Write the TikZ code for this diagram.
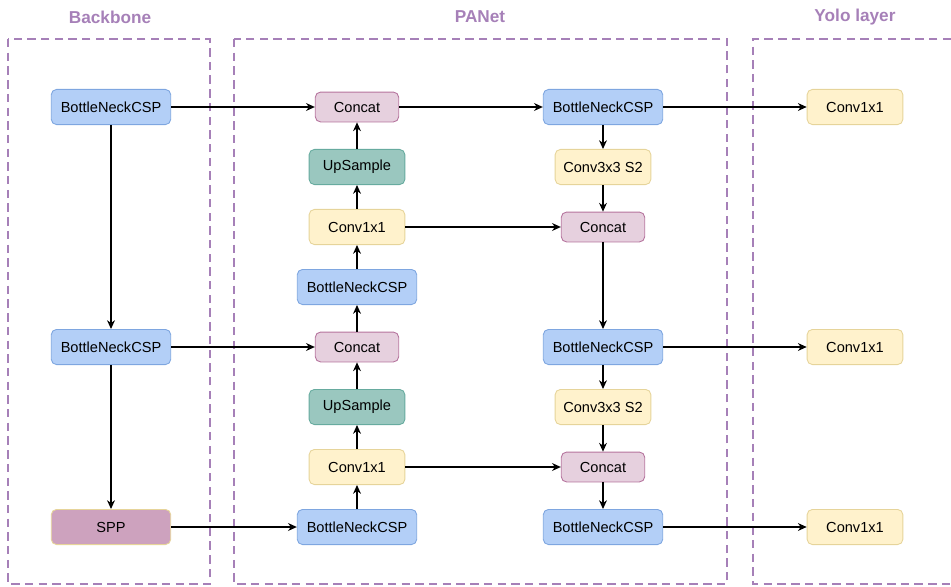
\documentclass[tikz,border=0pt]{standalone}
\usepackage{fontspec}
\setmainfont{Liberation Sans}
\usetikzlibrary{arrows.meta}

\definecolor{grpline}{HTML}{A680B8}
\definecolor{cspfill}{HTML}{B3CFF7}
\definecolor{cspline}{HTML}{7EA6E0}
\definecolor{catfill}{HTML}{E6D0DE}
\definecolor{catline}{HTML}{B5739D}
\definecolor{upfill}{HTML}{9AC7BF}
\definecolor{upline}{HTML}{67AB9F}
\definecolor{convfill}{HTML}{FFF2CC}
\definecolor{convline}{HTML}{E6D49A}
\definecolor{sppfill}{HTML}{CDA2BE}

\tikzset{
  blk/.style={draw, rounded corners=3pt, line width=0.5pt, minimum height=20pt,
    inner sep=0pt, font=\fontsize{8.3}{10}\selectfont},
  csp/.style={blk, fill=cspfill, draw=cspline, minimum width=68pt},
  cat/.style={blk, fill=catfill, draw=catline, minimum width=47.5pt, minimum height=17pt},
  up/.style={blk, fill=upfill, draw=upline, minimum width=54.5pt},
  conv/.style={blk, fill=convfill, draw=convline, minimum width=54.5pt},
  spp/.style={blk, fill=sppfill, draw=convline, minimum width=68pt},
  grp/.style={draw=grpline, line width=1.2pt, dash pattern=on 4.8pt off 3pt},
  grptitle/.style={text=grpline, font=\fontsize{9.8}{11}\selectfont\bfseries},
  link/.style={-{Stealth[length=5pt,width=4.5pt]}, line width=0.6pt}
}

\begin{document}
\begin{tikzpicture}[x=0.02cm, y=-0.02cm]
  \useasboundingbox (0,0) rectangle (951,586);

  % groups
  \draw [grp] (8,39) rectangle (210,584);
  \draw [grp] (234,39) rectangle (727,584);
  \draw [grp] (951,39) -- (753,39) -- (753,584) -- (951,584);
  \node [grptitle] (tbb) at (110,17) {Backbone};
  \node [grptitle] (tpa) at (480,17) {PANet};
  \node [grptitle] (tyo) at (855,17) {Yolo layer};

  % backbone
  \node [csp] (b1) at (111,107) {BottleNeckCSP};
  \node [csp] (b2) at (111,347) {BottleNeckCSP};
  \node [spp] (spp) at (111,527) {SPP};

  % PANet, top-down
  \node [cat] (c1) at (357,107) {Concat};
  \node [up] (u1) at (357,167) {UpSample};
  \node [conv] (k1) at (357,227) {Conv1x1};
  \node [csp] (m1) at (357,287) {BottleNeckCSP};
  \node [cat] (c2) at (357,347) {Concat};
  \node [up] (u2) at (357,407) {UpSample};
  \node [conv] (k2) at (357,467) {Conv1x1};
  \node [csp] (m2) at (357,527) {BottleNeckCSP};

  % PANet, bottom-up
  \node [csp] (r1) at (603,107) {BottleNeckCSP};
  \node [conv] (s1) at (603,167) {Conv3x3 S2};
  \node [cat] (d1) at (603,227) {Concat};
  \node [csp] (r2) at (603,347) {BottleNeckCSP};
  \node [conv] (s2) at (603,407) {Conv3x3 S2};
  \node [cat] (d2) at (603,467) {Concat};
  \node [csp] (r3) at (603,527) {BottleNeckCSP};

  % yolo layer
  \node [conv] (y1) at (855,107) {Conv1x1};
  \node [conv] (y2) at (855,347) {Conv1x1};
  \node [conv] (y3) at (855,527) {Conv1x1};

  \draw [link] (b1) -- (b2);
  \draw [link] (b2) -- (spp);
  \draw [link] (b1) -- (c1);
  \draw [link] (b2) -- (c2);
  \draw [link] (spp) -- (m2);

  \draw [link] (m2) -- (k2);
  \draw [link] (k2) -- (u2);
  \draw [link] (u2) -- (c2);
  \draw [link] (c2) -- (m1);
  \draw [link] (m1) -- (k1);
  \draw [link] (k1) -- (u1);
  \draw [link] (u1) -- (c1);

  \draw [link] (c1) -- (r1);
  \draw [link] (k1) -- (d1);
  \draw [link] (k2) -- (d2);
  \draw [link] (r1) -- (s1);
  \draw [link] (s1) -- (d1);
  \draw [link] (d1) -- (r2);
  \draw [link] (r2) -- (s2);
  \draw [link] (s2) -- (d2);
  \draw [link] (d2) -- (r3);

  \draw [link] (r1) -- (y1);
  \draw [link] (r2) -- (y2);
  \draw [link] (r3) -- (y3);
\end{tikzpicture}
\end{document}
